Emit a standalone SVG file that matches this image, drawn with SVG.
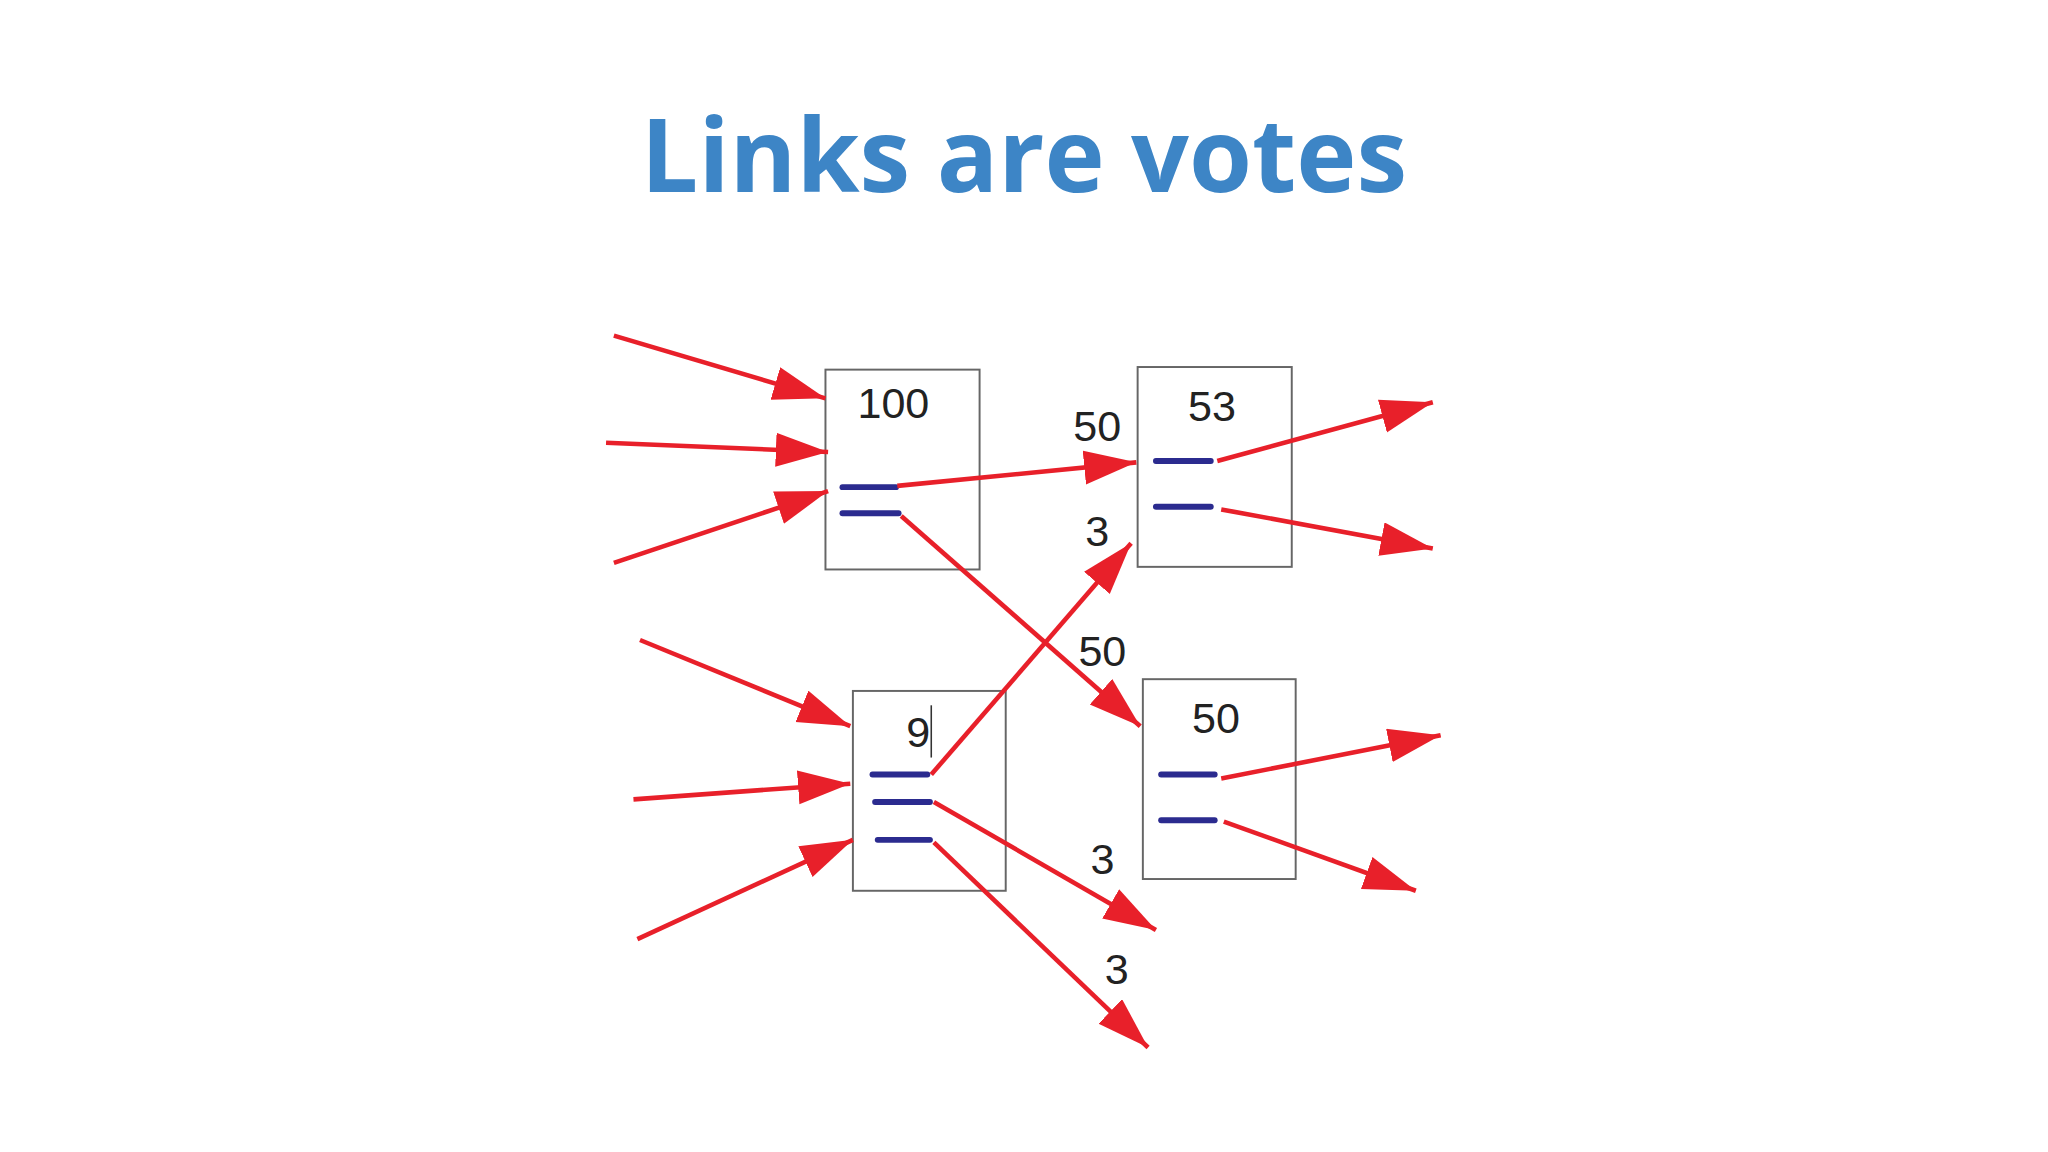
<svg xmlns="http://www.w3.org/2000/svg" width="2048" height="1152" viewBox="0 0 2048 1152">
<style>
.t{font-family:"Open Sans","Liberation Sans",sans-serif;font-weight:bold;fill:#3d85c6;font-size:78px}
.n{font-family:"Liberation Sans",Arial,sans-serif;font-size:33px;fill:#222}
.box{fill:#fff;stroke:#666;stroke-width:1.5}
.b{stroke:#2b2b8f;stroke-width:4.5;stroke-linecap:round}
.r{stroke:#e8202a;stroke-width:3.5;fill:none;marker-end:url(#ah)}
</style>
<defs>
<marker id="ah" markerUnits="userSpaceOnUse" markerWidth="44" markerHeight="30" refX="40" refY="13" orient="auto" viewBox="0 0 44 30">
<path d="M0,0 L40,13 L0,26 Z" fill="#e8202a"/>
</marker>
</defs>
<rect width="2048" height="1152" fill="#fff"/>
<g transform="scale(1.30612)">
<text class="t" x="784" y="147" text-anchor="middle">Links are votes</text>
<g id="nodeA"><rect class="box" x="632" y="283" width="118" height="153"/><text class="n" x="684" y="320" text-anchor="middle">100</text>
<line class="b" x1="645" y1="373" x2="686" y2="373"/><line class="b" x1="645" y1="393" x2="688" y2="393"/></g>
<g id="nodeB"><rect class="box" x="871" y="281" width="118" height="153"/><text class="n" x="928" y="322" text-anchor="middle">53</text>
<line class="b" x1="885" y1="353" x2="927" y2="353"/><line class="b" x1="885" y1="388" x2="927" y2="388"/></g>
<g id="nodeC"><rect class="box" x="653" y="529" width="117" height="153"/><text class="n" x="703" y="572" text-anchor="middle">9</text>
<line x1="713" y1="540" x2="713" y2="580" stroke="#333" stroke-width="1.2"/>
<line class="b" x1="668" y1="593" x2="710" y2="593"/><line class="b" x1="670" y1="614" x2="712" y2="614"/><line class="b" x1="672" y1="643" x2="712" y2="643"/></g>
<g id="nodeD"><rect class="box" x="875" y="520" width="117" height="153"/><text class="n" x="931" y="561" text-anchor="middle">50</text>
<line class="b" x1="889" y1="593" x2="930" y2="593"/><line class="b" x1="889" y1="628" x2="930" y2="628"/></g>
<g id="connectors">
<line class="r" x1="470" y1="257" x2="632" y2="305"/>
<line class="r" x1="464" y1="339" x2="634" y2="346"/>
<line class="r" x1="470" y1="431" x2="634" y2="376"/>
<line class="r" x1="687" y1="372" x2="870" y2="354"/>
<line class="r" x1="690" y1="395" x2="873" y2="556"/>
<line class="r" x1="713" y1="593" x2="866" y2="416"/>
<line class="r" x1="490" y1="490" x2="651" y2="556"/>
<line class="r" x1="485" y1="612" x2="651" y2="600"/>
<line class="r" x1="488" y1="719" x2="653" y2="643"/>
<line class="r" x1="715" y1="614" x2="885" y2="712"/>
<line class="r" x1="715" y1="645" x2="879" y2="802"/>
<line class="r" x1="932" y1="353" x2="1097" y2="308"/>
<line class="r" x1="935" y1="390" x2="1097" y2="420"/>
<line class="r" x1="935" y1="596" x2="1103" y2="563"/>
<line class="r" x1="937" y1="629" x2="1084" y2="682"/>
<text class="n" x="840" y="338" text-anchor="middle">50</text>
<text class="n" x="840" y="418" text-anchor="middle">3</text>
<text class="n" x="844" y="510" text-anchor="middle">50</text>
<text class="n" x="844" y="669" text-anchor="middle">3</text>
<text class="n" x="855" y="753" text-anchor="middle">3</text>
</g>
</g>
</svg>
